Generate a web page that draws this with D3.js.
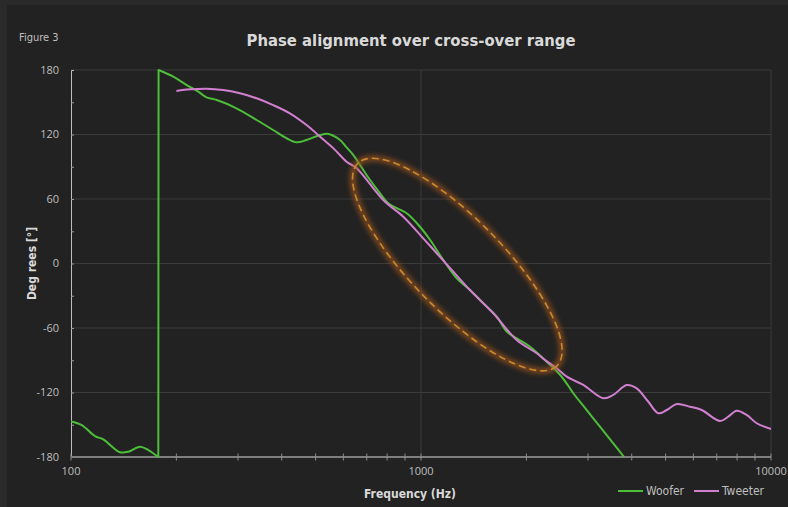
<!DOCTYPE html>
<html>
<head>
<meta charset="utf-8">
<script src="https://cdn.jsdelivr.net/npm/d3@7"></script>
<style>
  html, body { margin: 0; padding: 0; background: #2a2a2a; }
  svg { display: block; }
</style>
</head>
<body>
<svg id="chart" width="788" height="507"></svg>
<script>
// Measured phase response, frequency in Hz and phase in degrees
const wooferFreq = [100, 107.3, 117, 123.7, 127.8, 138, 145.8, 157.4, 166.3, 177.6,
  177.9, 196, 214, 231, 244, 261, 297, 339, 378, 413, 441, 471, 515, 544, 587, 613,
  641, 684, 707, 764, 806, 910, 993, 1061, 1158, 1265, 1380, 1507, 1646, 1758, 1877,
  2049, 2286, 2495, 2665, 2723, 2975, 3246, 3543, 3802];
const wooferPhase = [-147, -150.3, -160.5, -163.5, -167.3, -175.6, -175.1, -170.4, -173.5, -180,
  180, 173.8, 166, 159.8, 154.6, 152.1, 144.4, 133.5, 124.2, 116.5, 112.7, 114.9, 119.5, 120.5, 114.9, 108,
  100.9, 87, 80, 65.3, 56, 46.7, 34.2, 22.1, 3.3, -13.8, -24.7, -37, -49.5, -63.4, -69.6,
  -77.4, -91.3, -103.5, -116.1, -120.7, -136.3, -151.8, -167.3, -180];

const tweeterFreq = [200, 219, 244, 272, 304, 339, 378, 422, 471, 515, 565, 613, 655, 780,
  890, 1015, 1109, 1224, 1380, 1609, 1877, 2141, 2261, 2442, 2608, 2909, 3319, 3543, 3870,
  4133, 4462, 4764, 5035, 5378, 5871, 6339, 7152, 7551, 7980, 8523, 9103, 10000];
const tweeterPhase = [160.5, 162, 162.6, 161.4, 158.3, 153.7, 147.4, 139.7, 128.8, 117.9, 106.4, 94.7, 88.6, 59.1,
  43.5, 23.4, 9.5, -6, -24.7, -46.3, -71.2, -83.5, -89.8, -97.5, -105.3, -113, -125.4, -122.3, -113,
  -116.1, -128.6, -139.3, -136.3, -130.7, -133.2, -136.3, -146.5, -142.5, -136.9, -140.9, -148.6, -153.9];

const seriesNames = ["Woofer", "Tweeter"];
const xTicks = [100, 1000, 10000];
const yTicks = [180, 120, 60, 0, -60, -120, -180];
// Cross-over region highlighted by the ellipse (frequency in Hz, phase in degrees)
const highlightCenter = [1270, -1];

const titleText = "Phase alignment over cross-over range";
const figureLabel = "Figure 3";
const xTitle = "Frequency (Hz)";
const yTitle = "Deg rees [°]";

const colors = { Woofer: "#4dbd3a", Tweeter: "#d27fd0" };

const svg = d3.select("#chart");
const W = 788, H = 507;
const margin = { left: 71, right: 17, top: 70, bottom: 50 };
const plotW = W - margin.left - margin.right;
const plotH = H - margin.top - margin.bottom;

// Panel background
svg.append("rect").attr("width", W).attr("height", H).attr("fill", "#2a2a2a");
svg.append("rect").attr("x", 7).attr("y", 5).attr("width", W - 7).attr("height", H - 5).attr("fill", "#222222");

const x = d3.scaleLog().domain([100, 10000]).range([margin.left, margin.left + plotW]);
const y = d3.scaleLinear().domain([-180, 180]).range([margin.top + plotH, margin.top]);

const defs = svg.append("defs");
const glow = defs.append("filter").attr("id", "glow")
  .attr("x", "-20%").attr("y", "-20%").attr("width", "140%").attr("height", "140%");
glow.append("feGaussianBlur").attr("stdDeviation", 2.4);

// Horizontal gridlines
const g = svg.append("g");
g.selectAll("line.hgrid").data(yTicks.filter(d => d !== -180)).join("line")
  .attr("class", "hgrid")
  .attr("x1", margin.left).attr("x2", margin.left + plotW)
  .attr("y1", d => y(d)).attr("y2", d => y(d))
  .attr("stroke", "#3b3b3b").attr("stroke-width", 1);

// Vertical gridlines at decades
g.selectAll("line.vgrid").data(xTicks.filter(d => d !== 100)).join("line")
  .attr("class", "vgrid")
  .attr("x1", d => x(d)).attr("x2", d => x(d))
  .attr("y1", margin.top).attr("y2", margin.top + plotH)
  .attr("stroke", "#3b3b3b").attr("stroke-width", 1);

// Left axis with minor ticks every 30 degrees
const yAxis = d3.axisRight(y).tickValues(d3.range(-150, 180, 30)).tickSize(3).tickFormat("");
const ya = svg.append("g").attr("transform", `translate(${margin.left},0)`).call(yAxis);
ya.select(".domain").attr("stroke", "#bfbfbf");
ya.selectAll(".tick line").attr("stroke", "#9a9a9a");

svg.append("g").selectAll("text").data(yTicks).join("text")
  .attr("x", margin.left - 12).attr("y", d => y(d)).attr("dy", "0.35em")
  .attr("text-anchor", "end")
  .attr("font-family", "'Open Sans', 'Noto Sans', sans-serif")
  .attr("font-size", 11).attr("fill", "#bfbfbf")
  .text(d => d);

// Bottom axis with minor ticks on each decade step
const minorX = [];
for (let dec = 100; dec < 10000; dec *= 10) for (let k = 1; k <= 9; k++) minorX.push(dec * k);
minorX.push(10000);
const xAxisG = svg.append("g").attr("transform", `translate(0,${margin.top + plotH})`);
xAxisG.append("line").attr("x1", margin.left).attr("x2", margin.left + plotW)
  .attr("stroke", "#7f7f7f").attr("stroke-width", 2);
xAxisG.selectAll("line.tk").data(minorX).join("line").attr("class", "tk")
  .attr("x1", d => x(d)).attr("x2", d => x(d)).attr("y1", -3.5).attr("y2", 3.5)
  .attr("stroke", "#8c8c8c").attr("stroke-width", 1);
xAxisG.selectAll("text").data(xTicks).join("text")
  .attr("x", d => x(d)).attr("y", 18)
  .attr("text-anchor", "middle")
  .attr("font-family", "'Open Sans', 'Noto Sans', sans-serif")
  .attr("font-size", 11).attr("fill", "#bfbfbf")
  .text(d => d);

// Phase curves; the woofer wraps from -180 to +180, so each side is smoothed
// separately and joined by a straight vertical step.
const smooth = d3.line().x(d => x(d[0])).y(d => y(d[1])).curve(d3.curveCatmullRom.alpha(0.5));
const wooferData = d3.zip(wooferFreq, wooferPhase);
const wrapAt = wooferData.findIndex((d, i) => i > 0 && d[1] - wooferData[i - 1][1] > 180);
const wooferPath = smooth(wooferData.slice(0, wrapAt)) + smooth(wooferData.slice(wrapAt)).replace(/^M/, "L");
const tweeterData = d3.zip(tweeterFreq, tweeterPhase);
const curves = svg.append("g");
curves.append("path").attr("d", wooferPath)
  .attr("fill", "none").attr("stroke", colors.Woofer).attr("stroke-width", 2).attr("stroke-linejoin", "round");
curves.append("path").datum(tweeterData).attr("d", smooth)
  .attr("fill", "none").attr("stroke", colors.Tweeter).attr("stroke-width", 2).attr("stroke-linejoin", "round");

// Highlight ellipse around the cross-over region
const cx = x(highlightCenter[0]), cy = y(highlightCenter[1]);
const hl = svg.append("g").attr("transform", `translate(${cx},${cy}) rotate(45.5)`);
hl.append("ellipse").attr("rx", 142).attr("ry", 46)
  .attr("fill", "none").attr("stroke", "#a3561a").attr("stroke-width", 6)
  .attr("opacity", 0.7).attr("filter", "url(#glow)");
hl.append("ellipse").attr("rx", 142).attr("ry", 46)
  .attr("fill", "none").attr("stroke", "#c98a2e").attr("stroke-width", 1.6)
  .attr("stroke-dasharray", "7 4");

// Titles
const condensed = "'DejaVu Sans Condensed', 'Liberation Sans Narrow', sans-serif";
svg.append("text").attr("x", 411).attr("y", 46).attr("text-anchor", "middle")
  .attr("font-family", condensed).attr("font-weight", "bold")
  .attr("font-size", 16.5).attr("fill", "#d9d9d9").text(titleText);
svg.append("text").attr("x", 19).attr("y", 41)
  .attr("font-family", condensed).attr("font-size", 11).attr("fill", "#bfbfbf").text(figureLabel);
svg.append("text").attr("x", 410).attr("y", 498).attr("text-anchor", "middle")
  .attr("font-family", condensed).attr("font-weight", "bold")
  .attr("font-size", 12).attr("fill", "#d9d9d9").text(xTitle);
svg.append("text").attr("transform", `translate(36,${y(0)}) rotate(-90)`)
  .attr("text-anchor", "middle")
  .attr("font-family", condensed).attr("font-weight", "bold")
  .attr("font-size", 12).attr("fill", "#d9d9d9").text(yTitle);

// Legend
const legendX = [618, 694];
const lg = svg.append("g");
seriesNames.forEach((name, i) => {
  lg.append("line").attr("x1", legendX[i]).attr("x2", legendX[i] + 25)
    .attr("y1", 491).attr("y2", 491)
    .attr("stroke", colors[name]).attr("stroke-width", 2);
  lg.append("text").attr("x", legendX[i] + 28).attr("y", 495)
    .attr("font-family", condensed).attr("font-size", 12).attr("fill", "#bfbfbf").text(name);
});
</script>
</body>
</html>
